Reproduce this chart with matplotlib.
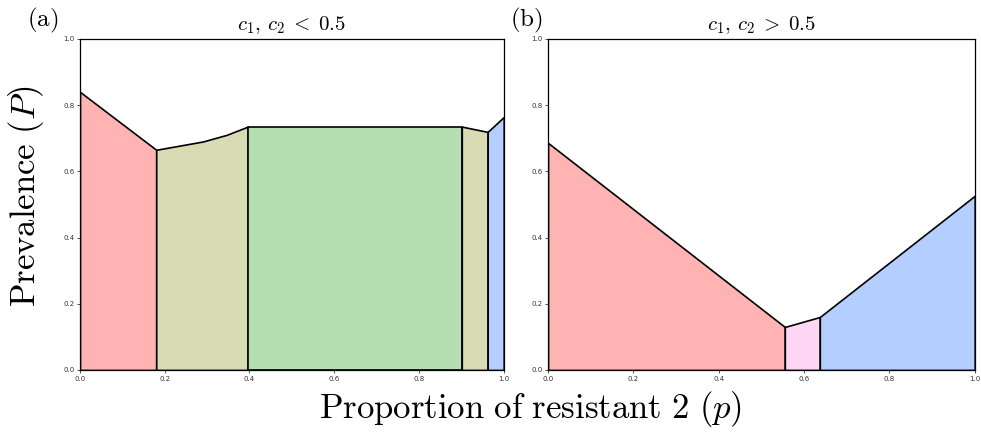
import matplotlib
matplotlib.use("Agg")
import matplotlib.pyplot as plt

plt.rcParams['mathtext.fontset'] = 'cm'

# panel (a): c1, c2 < 0.5
a_red_x = [0.0, 0.18]
a_red_y = [0.84, 0.665]
a_ol1_x = [0.18, 0.29, 0.346, 0.396]
a_ol1_y = [0.665, 0.69, 0.71, 0.735]
a_grn_x = [0.396, 0.901]
a_grn_y = [0.735, 0.735]
a_ol2_x = [0.901, 0.962]
a_ol2_y = [0.735, 0.719]
a_blu_x = [0.962, 1.0]
a_blu_y = [0.719, 0.764]

# panel (b): c1, c2 > 0.5
b_red_x = [0.0, 0.555]
b_red_y = [0.686, 0.13]
b_pnk_x = [0.555, 0.637]
b_pnk_y = [0.13, 0.16]
b_blu_x = [0.637, 1.0]
b_blu_y = [0.16, 0.526]

RED = '#ffb3b3'
OLIVE = '#d9dbb4'
GREEN = '#b4dfb3'
BLUE = '#b4cfff'
PINK = '#fdd6f6'

fig = plt.figure(figsize=(9.81, 4.34), dpi=100)
ax1 = fig.add_axes([0.0815, 0.1475, 0.432, 0.763])
ax2 = fig.add_axes([0.5586, 0.1475, 0.435, 0.763])

def region(ax, x, y, c):
    ax.fill_between(x, y, 0, facecolor=c, edgecolor='black', lw=1.2)

region(ax1, a_red_x, a_red_y, RED)
region(ax1, a_ol1_x, a_ol1_y, OLIVE)
region(ax1, a_grn_x, a_grn_y, GREEN)
region(ax1, a_ol2_x, a_ol2_y, OLIVE)
region(ax1, a_blu_x, a_blu_y, BLUE)

region(ax2, b_red_x, b_red_y, RED)
region(ax2, b_pnk_x, b_pnk_y, PINK)
region(ax2, b_blu_x, b_blu_y, BLUE)

for ax in (ax1, ax2):
    ax.set_xlim(0, 1)
    ax.set_ylim(0, 1)
    ax.set_xticks([0, 0.2, 0.4, 0.6, 0.8, 1.0])
    ax.set_yticks([0, 0.2, 0.4, 0.6, 0.8, 1.0])
    ax.tick_params(labelsize=5, length=2.5, width=0.6, colors='#333333', pad=1.5)
    for s in ax.spines.values():
        s.set_linewidth(0.9)

ax1.set_title(r'$c_1,\, c_2 \;<\; 0.5$', fontsize=15, pad=6)
ax2.set_title(r'$c_1,\, c_2 \;>\; 0.5$', fontsize=15, pad=6)
fig.text(0.044, 0.953, r'$\mathrm{(a)}$', fontsize=18, ha='center', va='center')
fig.text(0.537, 0.953, r'$\mathrm{(b)}$', fontsize=18, ha='center', va='center')

fig.text(0.027, 0.548, r'$\mathrm{Prevalence}\ (P)$', fontsize=25, rotation=90, ha='center', va='center')
fig.text(0.541, 0.058, r'$\mathrm{Proportion\ of\ resistant\ 2}\ (p)$', fontsize=25, ha='center', va='center')

fig.savefig('out.png', dpi=100)
